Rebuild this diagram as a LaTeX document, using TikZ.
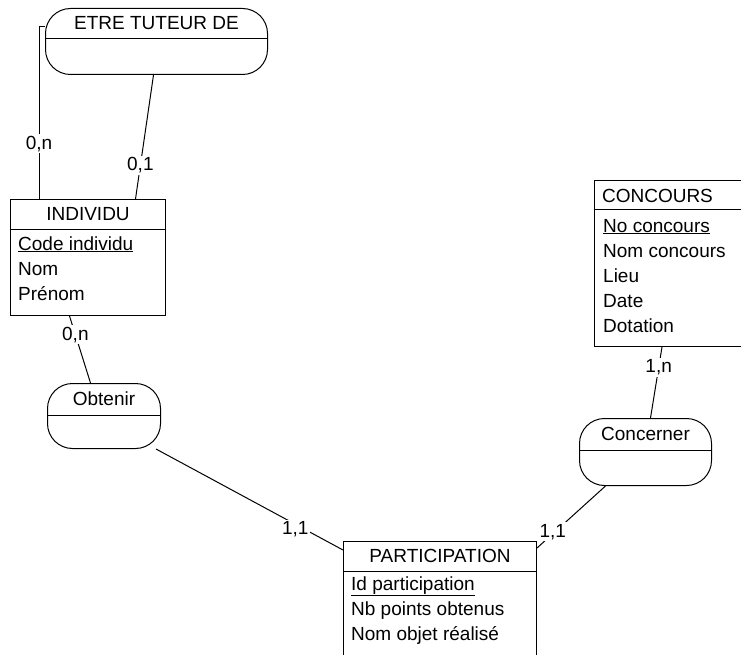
\documentclass[tikz,border=0pt]{standalone}
\usepackage{fontspec}
\setmainfont{Liberation Sans}
\usetikzlibrary{calc}
\usetikzlibrary{positioning}

\tikzset{
  entity/.style={draw, line width=1pt, anchor=north west, inner sep=0pt},
  assoc/.style={draw, line width=1pt, rounded corners=25pt, anchor=north west, inner sep=0pt},
  head/.style={anchor=base, inner sep=0pt},
  attr/.style={anchor=base west, inner sep=0pt},
  card/.style={fill=white, inner sep=1.5pt},
  link/.style={line width=1pt},
}

\begin{document}
\begin{tikzpicture}[x=1pt, y=-1pt, font=\fontsize{19}{23}\selectfont]
            \useasboundingbox (0,0) rectangle (741,655);
            \clip (0,0) rectangle (741,655);
            % ETRE TUTEUR DE
            \node[assoc, minimum width=222pt, minimum height=66pt]   (tuteur)        at ( 45,   8) {};
            \draw[link] ([yshift=-31pt]tuteur.north west) -- ([yshift=-31pt]tuteur.north east);
            \node[head]                                              (tuteurname)    at ([yshift=-22pt]tuteur.north) {ETRE TUTEUR DE};
            % INDIVIDU
            \node[entity, minimum width=155pt, minimum height=116pt] (individu)      at ( 10, 199) {};
            \draw[link] ([yshift=-30pt]individu.north west) -- ([yshift=-30pt]individu.north east);
            \node[head]                                              (individuname)  at ([yshift=-21pt]individu.north) {INDIVIDU};
            \node[attr] (individu1) at ([xshift=8pt, yshift=-51pt]individu.north west)  {\underline{Code individu}};
            \node[attr] (individu2) at ([xshift=8pt, yshift=-76pt]individu.north west)  {Nom};
            \node[attr] (individu3) at ([xshift=8pt, yshift=-101pt]individu.north west) {Prénom};
            % Obtenir
            \node[assoc, minimum width=113pt, minimum height=65pt]   (obtenir)       at ( 47, 383) {};
            \draw[link] ([yshift=-32pt]obtenir.north west) -- ([yshift=-32pt]obtenir.north east);
            \node[head]                                              (obtenirname)   at ([yshift=-22pt]obtenir.north) {Obtenir};
            % CONCOURS
            \node[entity, minimum width=160pt, minimum height=166pt] (concours)      at (594, 180) {};
            \draw[link] ([yshift=-29pt]concours.north west) -- ([yshift=-29pt]concours.north east);
            \node[head]                                              (concoursname)  at ([xshift=-17pt, yshift=-22pt]concours.north) {CONCOURS};
            \node[attr] (concours1) at ([xshift=9pt, yshift=-52pt]concours.north west)  {\underline{No concours}};
            \node[attr] (concours2) at ([xshift=9pt, yshift=-77pt]concours.north west)  {Nom concours};
            \node[attr] (concours3) at ([xshift=9pt, yshift=-102pt]concours.north west) {Lieu};
            \node[attr] (concours4) at ([xshift=9pt, yshift=-127pt]concours.north west) {Date};
            \node[attr] (concours5) at ([xshift=9pt, yshift=-152pt]concours.north west) {Dotation};
            % Concerner
            \node[assoc, minimum width=132pt, minimum height=67pt]   (concerner)     at (579, 418) {};
            \draw[link] ([yshift=-32pt]concerner.north west) -- ([yshift=-32pt]concerner.north east);
            \node[head]                                              (concernername) at ([yshift=-22pt]concerner.north) {Concerner};
            % PARTICIPATION
            \node[entity, minimum width=193pt, minimum height=125pt] (participation) at (343, 541) {};
            \draw[link] ([yshift=-30pt]participation.north west) -- ([yshift=-30pt]participation.north east);
            \node[head]                                              (participationname) at ([yshift=-21pt]participation.north) {PARTICIPATION};
            \node[attr] (participation1) at ([xshift=8pt, yshift=-49pt]participation.north west) {\underline{Id participation}};
            \node[attr] (participation2) at ([xshift=8pt, yshift=-74pt]participation.north west) {Nb points obtenus};
            \node[attr] (participation3) at ([xshift=8pt, yshift=-99pt]participation.north west) {Nom objet réalisé};
            % Links & cardinalities
            \draw[link] ([yshift=15pt]tuteur.west) -| ([xshift=29pt]individu.north west)
                 node[card, pos=0.84] (card1) {0,n};
            \draw[link] ([xshift=-3pt]tuteur.south) -- ([xshift=47.5pt]individu.north)
                 node[card, pos=0.73] (card2) {0,1};
            \draw[link] ([xshift=-18.5pt]individu.south) -- ([xshift=-13.5pt]obtenir.north)
                 node[card, pos=0.28] (card3) {0,n};
            \draw[link] ([xshift=-5pt]obtenir.south east) -- ([yshift=-9pt]participation.north west)
                 node[card, pos=0.745, yshift=-5pt] (card4) {1,1};
            \draw[link] ([xshift=68pt]concours.south west) -- ([xshift=5pt]concerner.north)
                 node[card, pos=0.29] (card5) {1,n};
            \draw[link] ([xshift=-40pt]concerner.south) -- ([yshift=-7pt]participation.north east)
                 node[card, pos=0.77, yshift=2pt] (card6) {1,1};
\end{tikzpicture}
\end{document}
